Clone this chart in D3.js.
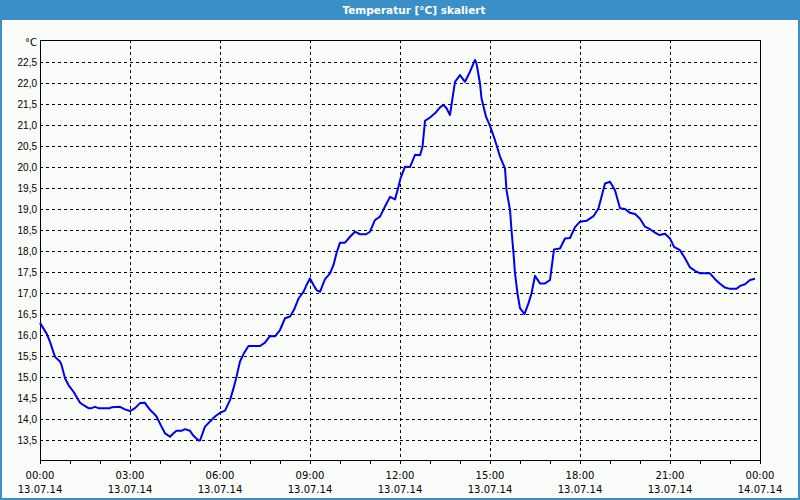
<!DOCTYPE html>
<html>
<head>
<meta charset="utf-8">
<script src="https://cdn.jsdelivr.net/npm/d3@7"></script>
<style>
  body { margin: 0; background: #f9fcf9; }
  svg { display: block; font-family: "DejaVu Sans", Verdana, sans-serif; }
  .grid line { stroke: #000; stroke-dasharray: 3,3; shape-rendering: crispEdges; }
  .axis text { font-size: 10px; fill: #000; }
  .axis line { stroke: #000; shape-rendering: crispEdges; }
</style>
</head>
<body>
<div class="d3line"></div>
<script>
// measured times (13.07.14) and temperatures in °C
var times = ["00:00","00:13","00:20","00:30","00:40","00:43","00:50","00:57","01:07","01:13",
  "01:20","01:27","01:37","01:43","01:50","01:57","02:20","02:23","02:40","02:50",
  "03:00","03:10","03:20","03:30","03:33","03:40","03:47","03:53","04:03","04:10",
  "04:20","04:27","04:33","04:43","04:50","05:00","05:07","05:17","05:20","05:30",
  "05:40","05:50","06:00","06:10","06:20","06:27","06:33","06:40","06:48","06:57",
  "07:20","07:30","07:40","07:50","08:00","08:10","08:20","08:28","08:37","08:47",
  "08:53","09:00","09:07","09:13","09:20","09:30","09:40","09:47","09:53","10:00",
  "10:10","10:20","10:30","10:40","10:52","11:00","11:10","11:20","11:30","11:40",
  "11:50","11:57","12:01","12:10","12:20","12:30","12:40","12:45","12:50","13:00",
  "13:10","13:20","13:27","13:33","13:40","13:45","13:50","14:00","14:10","14:20",
  "14:30","14:33","14:40","14:43","14:52","15:00","15:10","15:20","15:30","15:33",
  "15:40","15:43","15:47","15:50","15:55","16:00","16:09","16:17","16:23","16:30",
  "16:40","16:50","17:00","17:08","17:20","17:30","17:40","17:50","18:00","18:13",
  "18:27","18:37","18:50","19:00","19:10","19:20","19:30","19:40","19:50","20:00",
  "20:10","20:20","20:30","20:39","20:50","21:00","21:08","21:20","21:30","21:40",
  "21:50","22:00","22:20","22:30","22:40","22:50","23:00","23:13","23:20","23:30",
  "23:40","23:50"];
var temps = [16.29,16.04,15.84,15.48,15.37,15.29,14.97,14.81,14.65,14.53,
  14.39,14.33,14.26,14.26,14.29,14.26,14.26,14.28,14.29,14.23,
  14.19,14.26,14.38,14.39,14.33,14.22,14.14,14.06,13.82,13.66,
  13.58,13.66,13.72,13.72,13.76,13.72,13.60,13.49,13.49,13.82,
  13.94,14.06,14.15,14.20,14.45,14.73,15.01,15.37,15.57,15.74,
  15.74,15.82,15.98,15.97,16.12,16.40,16.44,16.60,16.87,17.03,
  17.19,17.35,17.19,17.07,17.03,17.33,17.47,17.67,17.95,18.20,
  18.20,18.34,18.46,18.40,18.40,18.46,18.74,18.82,19.06,19.29,
  19.23,19.53,19.73,20.01,20.00,20.29,20.28,20.48,21.10,21.18,
  21.28,21.42,21.48,21.40,21.24,21.64,22.03,22.19,22.03,22.27,
  22.55,22.47,21.99,21.64,21.20,20.98,20.64,20.25,19.97,19.45,
  18.98,18.50,17.95,17.47,16.99,16.64,16.50,16.76,16.99,17.41,
  17.23,17.23,17.31,18.04,18.06,18.30,18.31,18.57,18.70,18.72,
  18.83,19.02,19.61,19.65,19.45,19.02,19.00,18.91,18.88,18.77,
  18.58,18.52,18.44,18.38,18.41,18.30,18.10,18.02,17.83,17.61,
  17.53,17.47,17.47,17.33,17.22,17.13,17.10,17.10,17.17,17.21,
  17.31,17.34];
var yTickValues = [13.5,14,14.5,15,15.5,16,16.5,17,17.5,18,18.5,19,19.5,20,20.5,21,21.5,22,22.5];
var yDomain = [13.025, 23.025];
var title = "Temperatur [°C] skaliert";
var unit = "°C";

var parseTime = d3.timeParse("%d.%m.%y %H:%M");
var dataset = times.map(function(t, i) {
  return { time: parseTime("13.07.14 " + t), temp: temps[i] };
});
var start = parseTime("13.07.14 00:00"),
    end = parseTime("14.07.14 00:00");

// margin convention
var margin = {top: 40, right: 40, bottom: 40, left: 40}
  , width = 800 - margin.left - margin.right
  , height = 500 - margin.top - margin.bottom;

var xScale = d3.scaleTime().domain([start, end]).range([0, width]);
var yScale = d3.scaleLinear().domain(yDomain).range([height, 0]);

var root = d3.select(".d3line").append("svg")
    .attr("width", 800)
    .attr("height", 500);

// frame + title bar
root.append("rect")
    .attr("x", 0).attr("y", 0).attr("width", 800).attr("height", 20)
    .attr("fill", "#3b8fc7");
root.append("rect")
    .attr("x", 1).attr("y", 1).attr("width", 798).attr("height", 498)
    .attr("fill", "none").attr("stroke", "#3b8fc7").attr("stroke-width", 2);
root.append("text")
    .attr("x", 414).attr("y", 14)
    .attr("text-anchor", "middle")
    .attr("fill", "#fff")
    .attr("font-size", "10.5px")
    .attr("font-weight", "bold")
    .text(title);

var svg = root.append("g")
    .attr("transform", "translate(" + margin.left + "," + margin.top + ")");

// horizontal grid
svg.append("g").attr("class", "grid")
  .selectAll("line").data(yTickValues).enter().append("line")
    .attr("x1", 0).attr("x2", width)
    .attr("y1", function(d) { return yScale(d); })
    .attr("y2", function(d) { return yScale(d); });

// vertical grid every 3 hours
var majorTicks = d3.timeHour.every(3).range(start, d3.timeHour.offset(end, 1));
svg.append("g").attr("class", "grid")
  .selectAll("line").data(majorTicks.slice(1, -1)).enter().append("line")
    .attr("x1", function(d) { return xScale(d); })
    .attr("x2", function(d) { return xScale(d); })
    .attr("y1", 0).attr("y2", height);

// y axis labels
var yAxis = svg.append("g")
    .attr("class", "axis")
    .call(d3.axisLeft(yScale).tickValues(yTickValues).tickSize(0).tickPadding(3)
      .tickFormat(function(d) { return d3.format(".1f")(d).replace(".", ","); }));
yAxis.select(".domain").remove();

svg.append("text")
    .attr("x", -3).attr("y", 6)
    .attr("text-anchor", "end")
    .attr("font-size", "10px")
    .text(unit);

// x axis: hourly ticks, labels every 3 hours
var xAxis = svg.append("g")
    .attr("class", "axis")
    .attr("transform", "translate(0," + height + ")")
    .call(d3.axisBottom(xScale).ticks(d3.timeHour.every(1)).tickSize(4).tickFormat(""));
xAxis.select(".domain").remove();

var labels = svg.append("g")
    .attr("class", "axis")
    .attr("transform", "translate(0," + height + ")")
  .selectAll("text").data(majorTicks).enter().append("text")
    .attr("text-anchor", "middle")
    .attr("x", function(d) { return xScale(d); });
labels.append("tspan").attr("x", function(d) { return xScale(d); }).attr("y", 19)
    .text(d3.timeFormat("%H:%M"));
labels.append("tspan").attr("x", function(d) { return xScale(d); }).attr("y", 33)
    .text(d3.timeFormat("%d.%m.%y"));

// plot frame
svg.append("rect")
    .attr("x", 0.5).attr("y", 0.5).attr("width", width - 0.5).attr("height", height - 0.5)
    .attr("fill", "none").attr("stroke", "#000")
    .attr("shape-rendering", "crispEdges");

// the temperature line
var line = d3.line()
    .x(function(d) { return xScale(d.time); })
    .y(function(d) { return yScale(d.temp); });

svg.append("path")
    .datum(dataset)
    .attr("fill", "none")
    .attr("stroke", "#0000f0")
    .attr("stroke-width", 2)
    .attr("stroke-linejoin", "round")
    .attr("d", line);
</script>
</body>
</html>
